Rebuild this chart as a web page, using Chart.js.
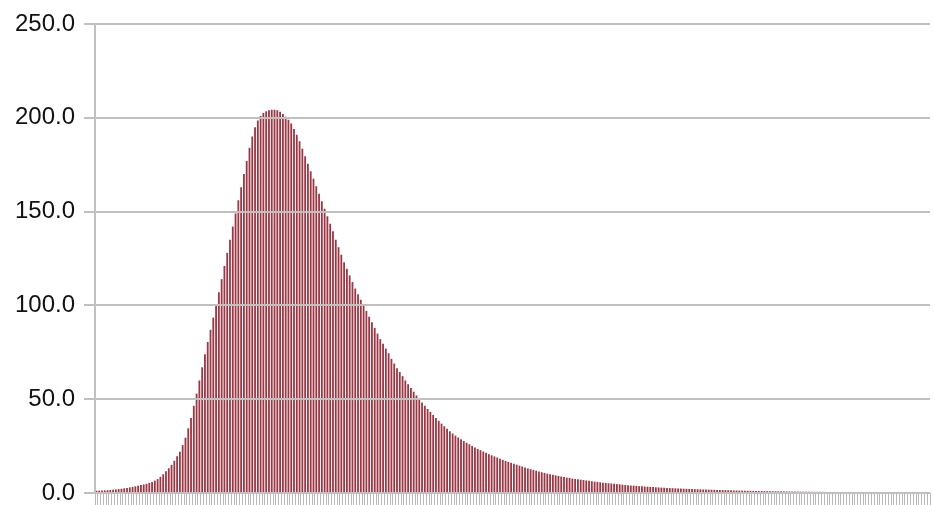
<!DOCTYPE html>
<html>
<head>
<meta charset="utf-8">
<script src="https://cdn.jsdelivr.net/npm/chart.js@4/dist/chart.umd.min.js"></script>
<style>
  body { margin: 0; background: #fff; }
  canvas { display: block; }
</style>
</head>
<body>
<canvas id="chart" width="934" height="505"></canvas>
<script>
// bar heights, left to right
const values = [
  1.2, 1.25, 1.3, 1.4, 1.5, 1.6, 1.75, 1.9, 2.05, 2.25,
  2.5, 2.7, 3.0, 3.25, 3.55, 3.9, 4.2, 4.55, 4.9, 5.4,
  5.9, 6.6, 7.4, 8.6, 10, 11.6, 13.2, 15, 17.2, 19.6,
  22, 25.5, 29.5, 34.5, 40, 46.5, 53, 60, 67, 74,
  80.5, 87, 93.5, 100, 107, 114, 121, 128, 135, 142,
  149, 156, 163, 170, 177, 184, 190, 195, 198.5, 201,
  202.5, 203.5, 204, 204.3, 204.3, 204, 203.2, 202, 200.5, 199,
  197, 194, 191, 187.5, 183.5, 179.5, 175.5, 171.5, 167.5, 163.5,
  159.5, 155.5, 151.5, 147.5, 143.5, 139.5, 135, 131, 127, 123,
  119.5, 116, 112.5, 109, 106, 103, 100, 97, 94, 91,
  88, 85, 82, 79.5, 77, 74.5, 71.5, 69, 66.5, 64.5,
  62.3, 60, 58, 56, 54, 52, 50, 48.2, 46.5, 44.8,
  43.2, 41.6, 40, 38.5, 37, 35.6, 34.2, 32.9, 31.7, 30.6,
  29.6, 28.6, 27.7, 26.8, 26, 25.1, 24.3, 23.5, 22.8, 22.1,
  21.4, 20.7, 20.1, 19.5, 18.9, 18.3, 17.7, 17.1, 16.6, 16.1,
  15.6, 15.1, 14.6, 14.1, 13.6, 13.1, 12.7, 12.3, 11.9, 11.5,
  11.1, 10.7, 10.3, 10, 9.7, 9.4, 9.1, 8.8, 8.5, 8.2,
  8.0, 7.7, 7.5, 7.3, 7.1, 6.9, 6.7, 6.5, 6.3, 6.1,
  5.9, 5.7, 5.5, 5.35, 5.2, 5.05, 4.9, 4.75, 4.6, 4.45,
  4.3, 4.15, 4.0, 3.9, 3.8, 3.65, 3.55, 3.45, 3.35, 3.25,
  3.15, 3.05, 2.95, 2.87, 2.79, 2.71, 2.63, 2.56, 2.49, 2.42,
  2.35, 2.29, 2.23, 2.17, 2.11, 2.05, 2.0, 1.95, 1.9, 1.85,
  1.8, 1.75, 1.7, 1.65, 1.6, 1.55, 1.5, 1.46, 1.42, 1.38,
  1.34, 1.3, 1.26, 1.22, 1.19, 1.16, 1.13, 1.1, 1.07, 1.04,
  1.01, 0.98, 0.96, 0.93, 0.91, 0.89, 0.87, 0.85, 0.83, 0.81,
  0.79, 0.77, 0.75, 0.73, 0.71, 0.69, 0.67, 0.65, 0.63, 0.61,
  0.6, 0.58, 0.56, 0.55, 0.53, 0.52, 0.5, 0.49, 0.48, 0.46,
  0.45, 0.44, 0.43, 0.42, 0.41, 0.4, 0.39, 0.38, 0.37, 0.36,
  0.35, 0.34, 0.33, 0.32, 0.31, 0.31, 0.30, 0.29, 0.28, 0.28,
  0.27, 0.26, 0.26, 0.25, 0.24, 0.24, 0.23, 0.23, 0.22, 0.22
];

// no visible x labels, one category per bar
const categories = values.map((v, i) => String(i + 1));

const yTicks = [0, 50, 100, 150, 200, 250];

const gridGray = '#c0c0c0';

const config = {
  type: 'bar',
  data: {
    labels: categories,
    datasets: [{
      data: values,
      backgroundColor: 'rgb(155, 55, 68)',
      borderWidth: 0,
      barPercentage: 0.65,
      categoryPercentage: 1.0,
    }],
  },
  options: {
    responsive: false,
    animation: false,
    devicePixelRatio: 1,
    layout: {
      padding: { top: 24, right: 4, bottom: 0, left: 0 },
    },
    plugins: {
      legend: { display: false },
      tooltip: { enabled: false },
    },
    scales: {
      x: {
        afterFit: (scale) => {
          scale.height = 12;
        },
        ticks: { display: false },
        grid: {
          display: true,
          drawOnChartArea: false,
          drawTicks: true,
          tickLength: 12,
          color: '#b8b8b8',
          lineWidth: 1,
        },
        border: { display: false },
      },
      y: {
        min: 0,
        max: 250,
        afterBuildTicks: (scale) => {
          scale.ticks = yTicks.map(v => ({ value: v }));
        },
        afterFit: (scale) => {
          scale.width = 95;
          // labels may overhang, layout padding handles the top
          scale.paddingTop = 0;
          scale.paddingBottom = 0;
        },
        ticks: {
          padding: 9,
          color: '#111',
          font: { family: 'Liberation Sans', size: 24 },
          callback: (v) => Number(v).toFixed(1),
        },
        grid: {
          color: gridGray,
          lineWidth: 2,
          tickLength: 11,
          z: 1,
        },
        // border has to come after the grid layer
        border: { display: true, color: gridGray, width: 2, z: 1 },
      },
    },
  },
};

const ctx = document.getElementById('chart').getContext('2d');
const curveChart = new Chart(ctx, config);
</script>
</body>
</html>
